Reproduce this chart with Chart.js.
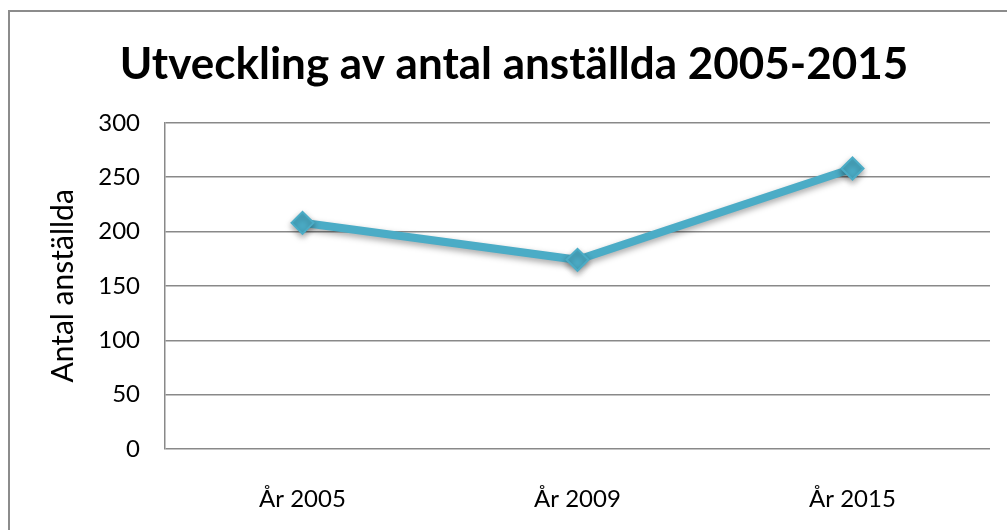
<!DOCTYPE html>
<html lang="sv">
<head>
    <meta charset="UTF-8">
    <title>Utveckling av antal anställda</title>
    <script src="https://cdn.jsdelivr.net/npm/chart.js"></script>
    <style>
        html, body { margin: 0; padding: 0; background: #fff; overflow: hidden; }
        #wrap { position: absolute; left: 0; top: 0; width: 1007px; height: 530px; }
        #frame {
            position: absolute; left: 8px; top: 10px; width: 2000px; height: 2000px;
            border-left: 2px solid #8c8c8c; border-top: 2px solid #8c8c8c;
            pointer-events: none;
        }
    </style>
</head>
<body>
    <div id="wrap"><canvas id="staffChart"></canvas></div>
    <div id="frame"></div>

    <script>
        // data
        const years = ['År 2005', 'År 2009', 'År 2015'];
        const staff = [208, 174, 258];
        const yTicks = [0, 50, 100, 150, 200, 250, 300];

        const teal = '#4BACC6';
        const gridGrey = '#898989';

        // soft drop shadow under the line, like the office chart
        const shadowPlugin = {
            id: 'lineShadow',
            beforeDatasetDraw(chart) {
                const ctx = chart.ctx;
                ctx.save();
                ctx.shadowColor = 'rgba(0,0,0,0.35)';
                ctx.shadowBlur = 6;
                ctx.shadowOffsetY = 3;
            },
            afterDatasetDraw(chart) {
                chart.ctx.restore();
            }
        };

        const ctx = document.getElementById('staffChart').getContext('2d');
        const staffChart = new Chart(ctx, {
            type: 'line',
            data: {
                labels: years,
                datasets: [{
                    label: 'Antal anställda',
                    data: staff,
                    borderColor: teal,
                    backgroundColor: teal,
                    borderWidth: 8,
                    pointStyle: 'rectRot',
                    pointRadius: 11,
                    pointBorderWidth: 2,
                    pointBackgroundColor: teal,
                    pointBorderColor: teal,
                    tension: 0,
                    clip: false
                }]
            },
            options: {
                responsive: true,
                maintainAspectRatio: false,
                animation: false,
                // left padding shifts the title centre to match the reference
                layout: { padding: { left: 38, right: 17, top: 0, bottom: 0 } },
                plugins: {
                    legend: { display: false },
                    tooltip: { enabled: false },
                    title: {
                        display: true,
                        text: 'Utveckling av antal anställda 2005-2015',
                        color: '#000',
                        font: { family: 'Lato', size: 44, weight: 'bold' },
                        padding: { top: 38, bottom: 32 }
                    }
                },
                scales: {
                    x: {
                        offset: true,
                        grid: { display: false },
                        border: { display: false },
                        ticks: {
                            color: '#000',
                            font: { family: 'Lato', size: 24 },
                            padding: 28
                        },
                        afterFit(scale) { scale.height = 81; }
                    },
                    y: {
                        min: 0,
                        max: 300,
                        afterBuildTicks(scale) {
                            scale.ticks = yTicks.map(v => ({ value: v }));
                        },
                        grid: { color: gridGrey, lineWidth: 1.5, drawTicks: false },
                        border: { display: true, color: gridGrey, width: 1.5 },
                        ticks: {
                            color: '#000',
                            font: { family: 'Lato', size: 24 },
                            padding: 25
                        },
                        title: {
                            display: true,
                            text: 'Antal anställda',
                            color: '#000',
                            font: { family: 'Lato', size: 30 },
                            padding: { top: 7, bottom: 0 }
                        },
                        afterFit(scale) { scale.width = 127; }
                    }
                }
            },
            plugins: [shadowPlugin]
        });
    </script>
</body>
</html>
